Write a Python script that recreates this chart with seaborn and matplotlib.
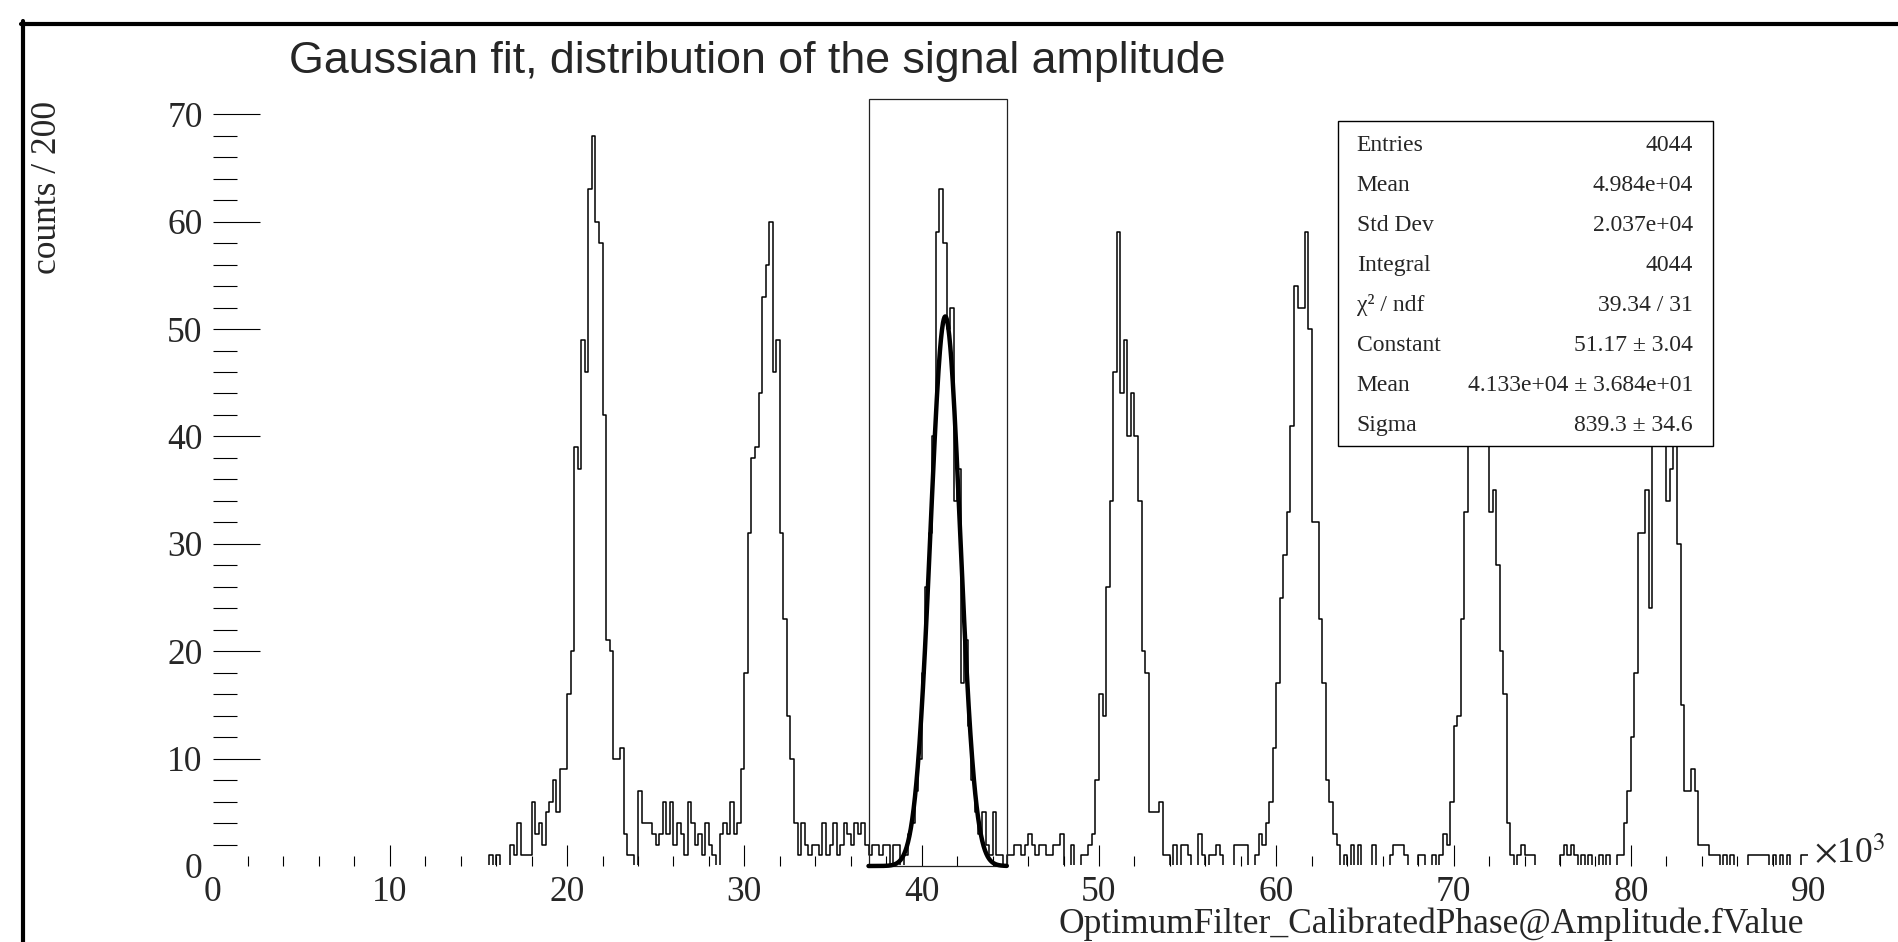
import numpy as np
import matplotlib
matplotlib.use("Agg")
import matplotlib.pyplot as plt
import seaborn as sns
from matplotlib.patches import Rectangle
from matplotlib.lines import Line2D
from matplotlib.ticker import MultipleLocator, FixedLocator

# Binning of the histogram (counts / 200)
BIN_WIDTH = 200
X_MAX = 90000
Y_MAX = 71.4

# Bin contents: (index of first bin, counts)
lead_in = (78, [1, 0, 1, 0, 0, 0, 2, 1, 4, 1, 1, 1, 6, 3, 4, 2, 5, 6, 8, 5, 9, 9])
peak_21k = (100, [16, 20, 39, 37, 49, 46, 63, 68, 60, 58, 42, 21, 20, 10, 10, 11, 3, 1, 1, 0, 7])
gap_26k = (121, [4, 4, 4, 3, 2, 3, 6, 3, 6, 2, 4, 3, 1, 6, 4, 2, 3, 1,
                 4, 2, 1, 0, 3, 4, 3, 6, 3, 4])
peak_31k = (149, [9, 18, 31, 38, 39, 44, 53, 56, 60, 46, 49, 31, 23, 14, 10, 4, 1, 4, 2, 1])
gap_35k = (169, [2, 2, 1, 4, 1, 2, 4, 1, 2, 4, 3, 2, 4, 3, 4, 2])
peak_41k = (185, [1, 2, 2, 1, 2, 2, 0, 2, 2, 0, 1,
                  3, 4, 7, 10, 18, 26, 31, 40, 59, 63, 58, 50, 52, 34, 37, 17, 21, 13, 8, 5, 3, 5,
                  2, 1, 5, 1, 1, 0, 1])
gap_47k = (225, [1, 2, 2, 1, 2, 3, 2, 1, 2, 2, 1, 1, 2, 2, 3, 0, 0, 2, 0, 0, 1, 1, 2, 3])
peak_51k = (249, [8, 16, 14, 26, 34, 46, 59, 44, 49, 40, 44, 40, 34, 20, 18, 5, 5, 5, 6])
gap_56k = (268, [1, 1, 0, 2, 0, 2, 2, 1, 0, 0, 3, 1, 0, 1, 1, 2, 1, 0, 0, 0,
                 2, 2, 2, 2, 0, 0, 1, 3, 2, 4])
peak_61k = (298, [6, 11, 17, 25, 29, 33, 41, 54, 52, 52, 59, 50, 32, 32, 23, 17, 8, 6, 3, 2])
gap_66k = (318, [0, 1, 0, 2, 0, 2, 0, 0, 0, 2, 0, 0, 0, 0, 1, 2, 2, 2, 1, 0,
                 0, 0, 1, 1, 0, 0, 1, 0, 1, 3, 2])
peak_71k = (349, [6, 13, 14, 23, 33, 42, 50, 56, 54, 50, 44, 33, 35, 28, 20, 16, 4, 1])
gap_76k = (367, [0, 1, 2, 1, 1, 1, 0, 0, 0, 0, 0, 0, 0, 1, 2, 1, 2, 1, 0, 1,
                 0, 1, 0, 0, 1, 0, 1, 0, 0, 1, 1, 4, 7])
peak_81k = (400, [12, 18, 31, 31, 35, 24, 42, 48, 50, 46, 34, 37, 44, 30, 15, 7, 7, 9, 7,
                  2, 2, 2, 1, 1, 1, 0])
tail_87k = (426, [1, 0, 1, 0, 0, 0, 0, 1, 1, 1, 1, 1, 1, 0, 1, 0, 1, 0, 1, 0, 0, 0, 1, 1])

segments = [lead_in, peak_21k, gap_26k, peak_31k, gap_35k, peak_41k, gap_47k, peak_51k,
            gap_56k, peak_61k, gap_66k, peak_71k, gap_76k, peak_81k, tail_87k]

# Gaussian fit shown on the middle peak
FIT_CONST = 51.17
FIT_MEAN = 4.133e4
FIT_SIGMA = 839.3
FIT_LO, FIT_HI = 37000, 44800

# Stats box
stat_names = ["Entries", "Mean", "Std Dev", "Integral", "\u03c7\u00b2 / ndf",
              "Constant", "Mean", "Sigma"]
stat_values = ["4044", "4.984e+04", "2.037e+04", "4044", "39.34 / 31",
               "51.17 \u00b1 3.04", "4.133e+04 \u00b1 3.684e+01", "839.3 \u00b1 34.6"]

x_major = list(range(0, 90001, 10000))
x_major_labels = [str(v // 1000) for v in x_major]
y_major = list(range(0, 71, 10))

# --- build the binned data
n_bins = X_MAX // BIN_WIDTH
counts = np.zeros(n_bins)
for start, vals in segments:
    counts[start:start + len(vals)] = vals
centers = np.arange(n_bins) * BIN_WIDTH + BIN_WIDTH / 2

sns.set_style("white")
plt.rcParams["font.family"] = ["Liberation Serif", "DejaVu Serif"]
plt.rcParams["mathtext.fontset"] = "stix"

W, H = 1899, 942
fig = plt.figure(figsize=(W / 100, H / 100), dpi=100)
ax = fig.add_axes([212.5 / W, 76 / H, 1595.7 / W, 766.8 / H])

sns.histplot(x=centers, weights=counts, binwidth=BIN_WIDTH, binrange=(0, X_MAX),
             element="step", fill=False, color="black", linewidth=1.1, ax=ax)
hist_line = ax.lines[-1]
hist_line.set_clip_path(Rectangle((0, 0.12), X_MAX, 100, transform=ax.transData))

# fit curve
fx = np.linspace(FIT_LO, FIT_HI, 400)
fy = FIT_CONST * np.exp(-0.5 * ((fx - FIT_MEAN) / FIT_SIGMA) ** 2)
sns.lineplot(x=fx, y=fy, color="black", linewidth=3.2, ax=ax, clip_on=False, zorder=4)

# fit range box
ax.add_patch(Rectangle((FIT_LO, 0), FIT_HI - FIT_LO, Y_MAX, fill=False,
                       edgecolor="#222222", linewidth=0.9, clip_on=False, zorder=3))

ax.set_xlim(0, X_MAX)
ax.set_ylim(0, Y_MAX)
ax.set_xlabel("")
ax.set_ylabel("")
for s in ax.spines.values():
    s.set_visible(False)

ax.xaxis.set_major_locator(FixedLocator(x_major))
ax.set_xticklabels(x_major_labels)
ax.xaxis.set_minor_locator(MultipleLocator(2000))
ax.yaxis.set_major_locator(FixedLocator(y_major))
ax.yaxis.set_minor_locator(MultipleLocator(2))
ax.tick_params(which="both", bottom=True, left=True, top=False, right=False)
ax.tick_params(axis="x", which="major", direction="in", length=15, width=0.8,
               labelsize=25.5, pad=7, color="black")
ax.tick_params(axis="x", which="minor", direction="in", length=7, width=0.8, color="black")
ax.tick_params(axis="y", which="major", direction="in", length=34, width=0.8,
               labelsize=25.5, pad=7, color="black")
ax.tick_params(axis="y", which="minor", direction="in", length=17, width=0.8, color="black")
ax.xaxis.get_major_ticks()[0].tick1line.set_visible(False)
ax.xaxis.get_major_ticks()[-1].tick1line.set_visible(False)
ax.yaxis.get_major_ticks()[0].tick1line.set_visible(False)

# texts
fig.text(289 / W, 1 - 72.5 / H, "Gaussian fit, distribution of the signal amplitude",
         family=["Liberation Sans", "DejaVu Sans"], fontsize=32.2, ha="left", va="baseline")
fig.text(48 / W, 1 - 101 / H, "counts / 200", rotation=90, fontsize=25.5,
         ha="center", va="top")
fig.text(1804 / W, 1 - 924 / H, "OptimumFilter_CalibratedPhase@Amplitude.fValue",
         fontsize=25.5, ha="right", va="center")
fig.text(1814 / W, 1 - 863 / H, r"$\times$10$^{3}$", fontsize=25.5, ha="left", va="baseline")

# stats box
bx0, by0, bx1, by1 = 1338, 121, 1713, 446
fig.add_artist(Rectangle((bx0 / W, 1 - by1 / H), (bx1 - bx0) / W, (by1 - by0) / H,
                         transform=fig.transFigure, facecolor="white",
                         edgecolor="black", linewidth=1.0, zorder=5))
for i, (name, val) in enumerate(zip(stat_names, stat_values)):
    yb = 1 - (150.7 + 40.1 * i) / H
    fig.text(1356.7 / W, yb, name, fontsize=17, ha="left", va="baseline", zorder=6)
    fig.text(1693 / W, yb, val, fontsize=17, ha="right", va="baseline", zorder=6)

# canvas border (left and top)
fig.add_artist(Line2D([23 / W, 23 / W], [0, 1 - 21 / H], transform=fig.transFigure,
                      color="black", linewidth=3.0))
fig.add_artist(Line2D([21 / W, 1], [1 - 23.5 / H, 1 - 23.5 / H], transform=fig.transFigure,
                      color="black", linewidth=3.0))

fig.savefig("out.png", dpi=100)
